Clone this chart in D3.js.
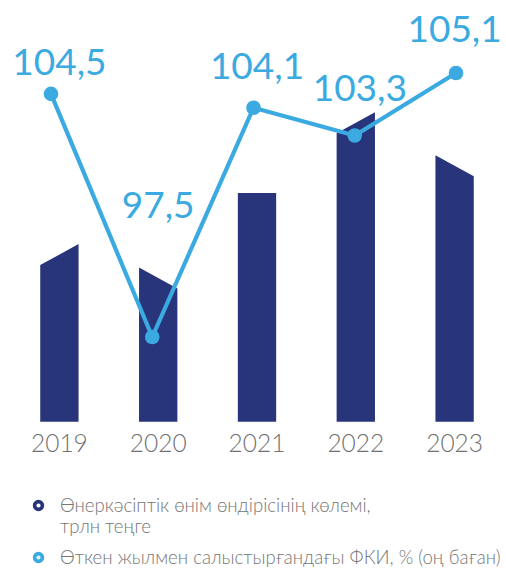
<!DOCTYPE html>
<html><head><meta charset="utf-8">
<script src="https://cdn.jsdelivr.net/npm/d3@7"></script>
<style>
html,body{margin:0;padding:0;background:#fff;}
svg{display:block;font-family:Lato,"Open Sans",sans-serif;}
</style></head>
<body><svg id="c" width="506" height="569"></svg>
<script>
const years = ["2019","2020","2021","2022","2023"];
// Industrial output volume, trln tenge (estimated, no labels in source)
const outputValues = [31.0, 26.9, 39.9, 54.0, 46.5];
// direction of decorative slanted top: 1 rising, -1 falling, 0 flat
const slantDir = [1, -1, 0, 1, -1];
// Physical volume index vs previous year, %
const pviValues = [104.5, 97.5, 104.1, 103.3, 105.1];
const pviLabels = ["104,5","97,5","104,1","103,3","105,1"];
const legendItems = [
  ["Өнеркәсіптік өнім өндірісінің көлемі,", "трлн теңге"],
  ["Өткен жылмен салыстырғандағы ФКИ, % (оң баған)"]
];

const NAVY = "#28357a", BLUE = "#3aaae1";
const svg = d3.select("#c");
const baseY = 421.7;

const x = d3.scaleBand().domain(years).range([10, 504]).paddingInner(0.612).paddingOuter(0.306);
const yBar = d3.scaleLinear().domain([0, 54]).range([baseY, 112.3]);
const xPt = d3.scalePoint().domain(years).range([51, 456]);
const yPt = d3.scaleLinear().domain([97.5, 105.1]).range([337, 73]);
const slant = 21;

// bars
svg.append("g").selectAll("path").data(years).join("path")
  .attr("fill", NAVY)
  .attr("d", (d, i) => {
    const x0 = x(d), x1 = x(d) + x.bandwidth();
    const top = yBar(outputValues[i]);
    const s = slantDir[i];
    const yl = s === 1 ? top + slant : top;
    const yr = s === -1 ? top + slant : top;
    return `M${x0},${baseY}L${x0},${yl}L${x1},${yr}L${x1},${baseY}Z`;
  });

// year axis labels
svg.append("g").selectAll("text").data(years).join("text")
  .attr("x", d => x(d) + x.bandwidth() / 2)
  .attr("y", 451.5)
  .attr("text-anchor", "middle")
  .attr("font-size", 24.5)
  .attr("font-weight", 300)
  .attr("fill", "#707070")
  .text(d => d);

// line
const line = d3.line().x((d, i) => xPt(years[i])).y(d => yPt(d));
svg.append("path").datum(pviValues)
  .attr("d", line).attr("fill", "none")
  .attr("stroke", BLUE).attr("stroke-width", 4.2).attr("stroke-linejoin", "miter");

svg.append("g").selectAll("circle").data(pviValues).join("circle")
  .attr("cx", (d, i) => xPt(years[i]))
  .attr("cy", d => yPt(d))
  .attr("r", 7.3)
  .attr("fill", BLUE);

// value labels (layout offsets above point)
const labelRise = [19, 119, 29, 35, 31];
const labelShift = [0, 0, 0, 4, 0];
svg.append("g").selectAll("text").data(pviValues).join("text")
  .attr("x", (d, i) => x(years[i]) + x.bandwidth() / 2 + labelShift[i])
  .attr("y", (d, i) => yPt(d) - labelRise[i])
  .attr("text-anchor", "middle")
  .attr("font-size", 37)
  .attr("fill", BLUE)
  .text((d, i) => pviLabels[i]);

// legend
const lg = svg.append("g");
const legendRows = [505.5, 557.5];
const legendStroke = [NAVY, BLUE];
const legendFill = ["#ffffff", "#e3f3fb"];
legendItems.forEach((lines, k) => {
  lg.append("circle").attr("cx", 38.5).attr("cy", legendRows[k]).attr("r", 3.9)
    .attr("fill", legendFill[k]).attr("stroke", legendStroke[k]).attr("stroke-width", 3.6);
  lines.forEach((t, j) => {
    lg.append("text").attr("x", 60).attr("y", legendRows[k] + 6 + j * 21.7)
      .attr("font-size", 18.6).attr("fill", "#767676").attr("font-weight", 300).text(t);
  });
});
</script></body></html>
